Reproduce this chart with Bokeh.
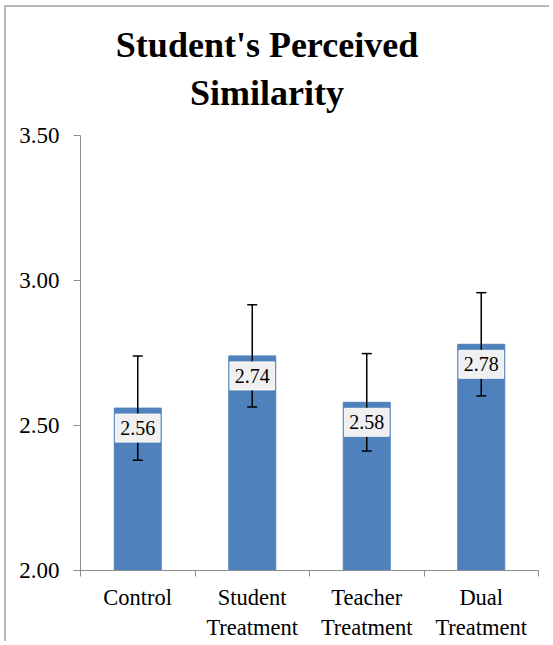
from bokeh.plotting import figure
from bokeh.models import FixedTicker, PrintfTickFormatter, Range1d, ColumnDataSource
from bokeh.embed import file_html
from bokeh.resources import INLINE
from bokeh.core.properties import value

# ---- data ----
categories = ["Control", "Student Treatment", "Teacher Treatment", "Dual Treatment"]
tick_labels = ["Control", "Student\nTreatment", "Teacher\nTreatment", "Dual\nTreatment"]
means = [2.56, 2.74, 2.58, 2.78]
errors = [0.18, 0.176, 0.168, 0.178]
y_ticks = [2.00, 2.50, 3.00, 3.50]
title_lines = ["Student's Perceived", "Similarity"]

# ---- layout constants (pixels) ----
W, H = 545, 636
B_LEFT, B_RIGHT, B_TOP, B_BOTTOM = 74, 13, 0, 73
AXIS_PX = 435                       # length of the 2.00-3.50 axis
TITLE_CX_PX = 186.5                 # title centre, from frame left
TITLE_BASE_PX = [526, 478]          # title baselines, above the 2.00 line
LABEL_DROP_PX = 20

Y0, Y1 = y_ticks[0], y_ticks[-1]
px_per_unit = AXIS_PX / (Y1 - Y0)
frame_h = H - B_TOP - B_BOTTOM
frame_w = W - B_LEFT - B_RIGHT
Y_TOP = Y0 + frame_h / px_per_unit
N = len(categories)

SERIF = "Liberation Serif"
BAR = "#4f81bd"
AXIS = "#8c8c8c"

xs = [i + 0.5 for i in range(N)]
src = ColumnDataSource(dict(
    x=xs,
    mean=means,
    upper=[m + e for m, e in zip(means, errors)],
    lower=[m - e for m, e in zip(means, errors)],
    label=[f"{m:.2f}" for m in means],
    label_y=[m - LABEL_DROP_PX / px_per_unit for m in means],
))

p = figure(width=W, height=H, title=None,
           x_range=Range1d(0, N), y_range=Range1d(Y0, Y_TOP),
           output_backend="svg", toolbar_location=None,
           min_border_left=B_LEFT, min_border_right=B_RIGHT,
           min_border_top=B_TOP, min_border_bottom=B_BOTTOM)
p.outline_line_color = None
p.grid.visible = False
p.background_fill_color = "white"
p.border_fill_color = "white"
p.styles = {"margin-left": "4px", "margin-top": "5px",
            "border-left": "2px solid #b8b8b8", "border-top": "2px solid #b8b8b8",
            "border-right": "none", "border-bottom": "none", "outline": "none",
            "overflow": "hidden"}

# bars
p.vbar(x="x", top="mean", bottom=Y0, width=0.41, source=src,
       fill_color=BAR, line_color=BAR)

# error bars
p.segment(x0="x", y0="lower", x1="x", y1="upper", source=src,
          line_color="black", line_width=1.5)
p.scatter(x="x", y="upper", marker="dash", size=10, source=src,
          line_color="black", line_width=1.5)
p.scatter(x="x", y="lower", marker="dash", size=10, source=src,
          line_color="black", line_width=1.5)

# value label boxes
p.rect(x="x", y="label_y", width=0.39, height=28, height_units="screen", source=src,
       fill_color="#f0f0f0", line_color="#f8f8f8", line_width=1)
p.text(x="x", y="label_y", text="label", source=src,
       text_align="center", text_baseline="middle",
       text_font=value(SERIF), text_font_size="20px", text_color="black")

# title (two centred lines, drawn inside the tall frame)
p.text(x=[TITLE_CX_PX * N / frame_w] * 2,
       y=[Y0 + b / px_per_unit for b in TITLE_BASE_PX],
       text=title_lines, text_align="center", text_baseline="alphabetic",
       text_font=value(SERIF), text_font_size="36px", text_font_style="bold",
       text_color="black")

# x axis
p.xaxis.ticker = FixedTicker(ticks=xs, minor_ticks=list(range(N + 1)))
p.xaxis.major_label_overrides = {x: lab for x, lab in zip(xs, tick_labels)}
p.xaxis.major_tick_line_color = None
p.xaxis.major_tick_out = 0
p.xaxis.major_tick_in = 0
p.xaxis.minor_tick_out = 6
p.xaxis.minor_tick_in = 0
p.xaxis.minor_tick_line_color = AXIS
p.xaxis.axis_line_color = AXIS
p.xaxis.major_label_text_font = SERIF
p.xaxis.major_label_text_font_size = "22.5px"
p.xaxis.major_label_text_color = "black"
p.xaxis.major_label_standoff = 8

# y axis
p.yaxis.ticker = FixedTicker(ticks=y_ticks)
p.yaxis.bounds = (Y0, Y1)
p.yaxis.formatter = PrintfTickFormatter(format="%.2f")
p.yaxis.major_tick_out = 7
p.yaxis.major_tick_in = 0
p.yaxis.minor_tick_line_color = None
p.yaxis.major_tick_line_color = AXIS
p.yaxis.axis_line_color = AXIS
p.yaxis.major_label_text_font = SERIF
p.yaxis.major_label_text_font_size = "23px"
p.yaxis.major_label_text_color = "black"
p.yaxis.major_label_standoff = 14

open("out.html", "w").write(file_html(p, INLINE))
